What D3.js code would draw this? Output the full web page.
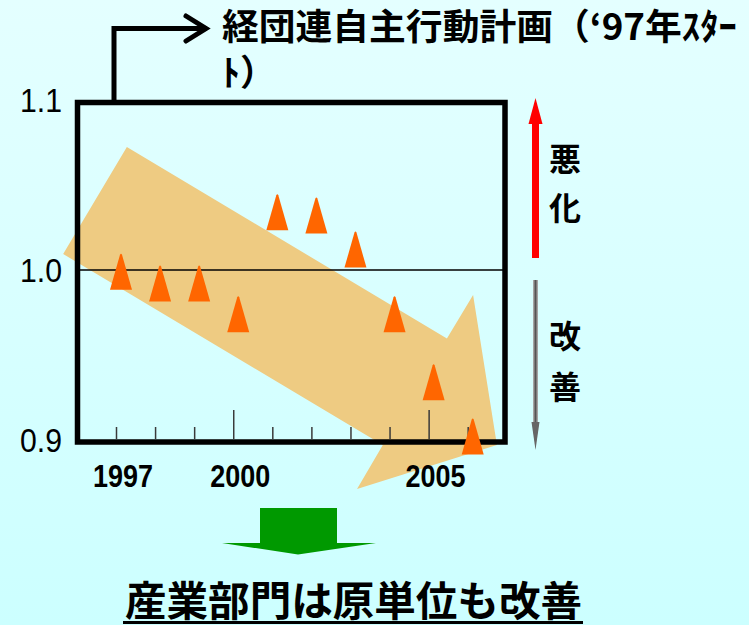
<!DOCTYPE html>
<html>
<head>
<meta charset="utf-8">
<script src="https://cdn.jsdelivr.net/npm/d3@7"></script>
<style>
  html, body { margin: 0; padding: 0; background: #d8ffff; }
  svg { display: block; }
</style>
</head>
<body>
<div id="chart"></div>
<script>
// Energy intensity index of the industrial sector (1.0 = baseline)
const years = [1997, 1998, 1999, 2000, 2001, 2002, 2003, 2004, 2005, 2006];
const values = [0.999, 0.992, 0.992, 0.974, 1.034, 1.032, 1.012, 0.974, 0.934, 0.902];
const yTicks = [0.9, 1.0, 1.1];
const yTickLabels = ["0.9", "1.0", "1.1"];
const xLabelYears = [1997, 2000, 2005];
const majorTickYears = [2000, 2005];

// Downward trend arrow, outlined in (year, index) units
const trendArrow = [
  [1995.52, 1.0094], [1997.15, 1.0724], [2005.34, 0.9597], [2006.01, 0.9853],
  [2006.62, 0.8971], [2003.04, 0.8712], [2003.70, 0.8971]
];

const titleLine1 = "経団連自主行動計画（‘97年ｽﾀｰ";
const titleLine2 = "ﾄ）";
const upLabel = ["悪", "化"];
const downLabel = ["改", "善"];
const conclusion = "産業部門は原単位も改善";

const W = 749, H = 625;
const frame = { left: 77.5, right: 505, top: 102.5, bottom: 442 };

const svg = d3.select("#chart").append("svg")
  .attr("width", W).attr("height", H);

const defs = svg.append("defs");
const bg = defs.append("linearGradient").attr("id", "bg")
  .attr("x1", 0).attr("y1", 0).attr("x2", 0).attr("y2", 1);
bg.append("stop").attr("offset", 0).attr("stop-color", "#e4ffff");
bg.append("stop").attr("offset", 1).attr("stop-color", "#ccffff");
const grey = defs.append("linearGradient").attr("id", "greyShaft")
  .attr("x1", 0).attr("y1", 0).attr("x2", 1).attr("y2", 0);
grey.append("stop").attr("offset", 0).attr("stop-color", "#b8b8b8");
grey.append("stop").attr("offset", 0.5).attr("stop-color", "#555");
grey.append("stop").attr("offset", 1).attr("stop-color", "#b8b8b8");

svg.append("rect").attr("width", W).attr("height", H).attr("fill", "url(#bg)");

const x = d3.scaleLinear().domain([1997, 2006]).range([121, 472.7]);
const y = d3.scaleLinear().domain([0.9, 1.1]).range([440, 100]);
const tickShift = -4.5;

// Trend arrow
svg.append("path")
  .datum(trendArrow)
  .attr("d", d3.line().x(d => x(d[0])).y(d => y(d[1])).curve(d3.curveLinearClosed))
  .attr("fill", "#eecb82");

// Baseline at 1.0
svg.append("line")
  .attr("x1", frame.left).attr("x2", frame.right)
  .attr("y1", y(1.0)).attr("y2", y(1.0))
  .attr("stroke", "#000").attr("stroke-width", 1.3);

// Year ticks along the inside of the bottom edge
svg.append("g").selectAll("line").data(years).join("line")
  .attr("x1", d => x(d) + tickShift).attr("x2", d => x(d) + tickShift)
  .attr("y1", frame.bottom - 3)
  .attr("y2", d => majorTickYears.includes(d) ? frame.bottom - 32 : frame.bottom - 15)
  .attr("stroke", "#3a3a3a").attr("stroke-width", 1.5);

// Plot frame
svg.append("rect")
  .attr("x", frame.left).attr("y", frame.top)
  .attr("width", frame.right - frame.left).attr("height", frame.bottom - frame.top)
  .attr("fill", "none").attr("stroke", "#000").attr("stroke-width", 5.5);

// Triangle markers centred on each yearly value
const triW = 22, triH = 36;
svg.append("g").selectAll("path").data(years).join("path")
  .attr("d", (d, i) => {
    const cx = x(d), cy = y(values[i]);
    return `M${cx - triW / 2},${cy + triH / 2}L${cx - 1},${cy - triH / 2 + 1}` +
      `Q${cx},${cy - triH / 2 - 1} ${cx + 1},${cy - triH / 2 + 1}L${cx + triW / 2},${cy + triH / 2}Z`;
  })
  .attr("fill", "#ff6600");

// Y axis labels
svg.append("g").selectAll("text").data(yTicks).join("text")
  .attr("x", 62).attr("y", d => y(d) + 12)
  .attr("text-anchor", "end")
  .attr("font-family", "'Liberation Sans', Arial, sans-serif")
  .attr("font-size", 34)
  .attr("textLength", 42).attr("lengthAdjust", "spacingAndGlyphs")
  .attr("fill", "#000")
  .text((d, i) => yTickLabels[i]);

// X axis labels
svg.append("g").selectAll("text").data(xLabelYears).join("text")
  .attr("x", d => x(d) + 2 - 30).attr("y", 487)
  .attr("font-family", "'Liberation Sans', Arial, sans-serif")
  .attr("font-weight", "bold").attr("font-size", 31)
  .attr("textLength", 60).attr("lengthAdjust", "spacingAndGlyphs")
  .attr("fill", "#000")
  .text(d => d);

// Bent arrow from the frame to the heading
svg.append("path")
  .attr("d", "M114,103V28.5H205")
  .attr("fill", "none").attr("stroke", "#000").attr("stroke-width", 5);
svg.append("path")
  .attr("d", "M186,16L206,28.5L186,41")
  .attr("fill", "none").attr("stroke", "#000").attr("stroke-width", 5)
  .attr("stroke-linecap", "round").attr("stroke-linejoin", "miter");

const cjk = "'Noto Sans CJK JP', 'Noto Sans CJK SC', sans-serif";
const heading = svg.append("text")
  .attr("font-family", cjk).attr("font-weight", "bold").attr("font-size", 36)
  .attr("fill", "#000");
heading.append("tspan")
  .attr("x", 222).attr("y", 40)
  .attr("textLength", 515).attr("lengthAdjust", "spacingAndGlyphs")
  .text(titleLine1);
heading.append("tspan")
  .attr("x", 222).attr("y", 86)
  .text(titleLine2);

// Worse (up) / better (down) direction arrows
const ax = 535.5;
svg.append("rect").attr("x", ax - 3.5).attr("y", 122).attr("width", 7).attr("height", 136)
  .attr("fill", "#ff0000");
svg.append("path").attr("d", `M${ax - 7},124L${ax},98L${ax + 7},124Z`).attr("fill", "#ff0000");
svg.append("rect").attr("x", ax - 2.5).attr("y", 280).attr("width", 5).attr("height", 146)
  .attr("fill", "url(#greyShaft)");
svg.append("path").attr("d", `M${ax - 4},422L${ax},450L${ax + 4},422Z`).attr("fill", "#666");

svg.append("g").selectAll("text").data(upLabel.concat(downLabel)).join("text")
  .attr("x", 565)
  .attr("y", (d, i) => [171, 220, 348, 399][i])
  .attr("text-anchor", "middle")
  .attr("font-family", cjk).attr("font-weight", "bold").attr("font-size", 32)
  .attr("fill", "#000").text(d => d);

// Green arrow leading to the conclusion
svg.append("rect").attr("x", 260).attr("y", 508).attr("width", 77).attr("height", 36)
  .attr("fill", "#009900");
svg.append("path").attr("d", "M222,543L376,543L298,554.5Z").attr("fill", "#009900");

svg.append("text")
  .attr("x", 125).attr("y", 616)
  .attr("font-family", cjk).attr("font-weight", "bold").attr("font-size", 41)
  .attr("textLength", 457).attr("lengthAdjust", "spacingAndGlyphs")
  .attr("fill", "#000").text(conclusion);
svg.append("line")
  .attr("x1", 123).attr("x2", 583).attr("y1", 622.5).attr("y2", 622.5)
  .attr("stroke", "#000").attr("stroke-width", 3);
</script>
</body>
</html>
